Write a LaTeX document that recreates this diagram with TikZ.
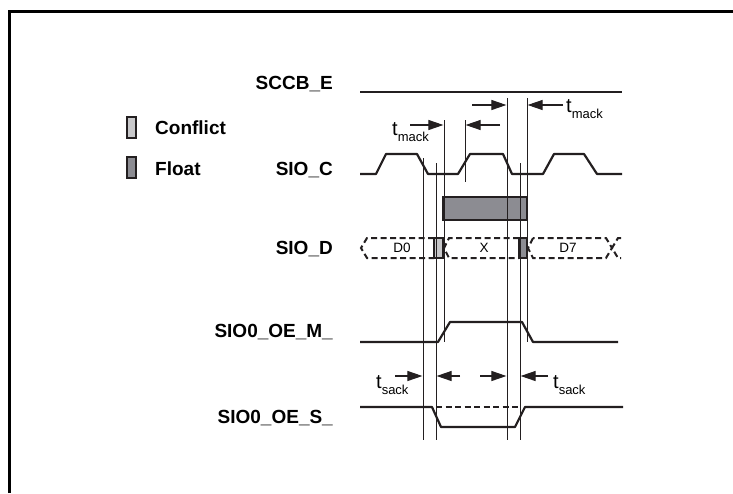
\documentclass[tikz,border=0pt]{standalone}
\usepackage{fontspec}
\setmainfont{Liberation Sans}
\usetikzlibrary{arrows.meta}
\definecolor{conflictgray}{RGB}{200,200,202}
\definecolor{floatgray}{RGB}{140,140,146}
\definecolor{inkgray}{RGB}{35,31,32}
\tikzset{
  frameline/.style={draw=black, line width=3pt},
  sig/.style={draw=inkgray, line width=2.2pt, line join=round},
  busdash/.style={draw=inkgray, line width=2pt, dash pattern=on 6pt off 3.5pt},
  guide/.style={draw=inkgray, line width=0.9pt},
  dimarr/.style={draw=inkgray, line width=1.1pt, -{Triangle[length=15pt,width=10pt]}, shorten >=0.6pt},
  chunk/.style={draw=inkgray, line width=2pt},
  swatch/.style={draw=inkgray, line width=1.6pt, minimum width=9pt, minimum height=21pt, inner sep=0pt},
  signame/.style={font=\fontsize{19}{22}\selectfont\bfseries, anchor=base east, inner sep=0pt},
  keytext/.style={font=\fontsize{19}{22}\selectfont\bfseries, anchor=base west, inner sep=0pt},
  bustext/.style={font=\fontsize{13.5}{16}\selectfont, inner sep=0pt},
  tlbl/.style={font=\fontsize{20}{22}\selectfont, anchor=base west, inner sep=0pt}
}
\newcommand{\tsub}[1]{t\raisebox{-6pt}{\fontsize{13}{14}\selectfont #1}}

\begin{document}
\begin{tikzpicture}[x=1pt,y=-1pt]
  \useasboundingbox (0,0) rectangle (733,493);
  \draw[frameline] (9.5,493) -- (9.5,11.5) -- (733,11.5);

  % signal names
  \node[signame] (nSCCB) at (333,89) {SCCB\_E};
  \node[signame] (nSIOC) at (333,175) {SIO\_C};
  \node[signame] (nSIOD) at (333,254) {SIO\_D};
  \node[signame] (nOEM) at (333,337) {SIO0\_OE\_M\_};
  \node[signame] (nOES) at (333,423) {SIO0\_OE\_S\_};

  % key
  \node[swatch, fill=conflictgray] (kConflict) at (131.5,127.5) {};
  \node[keytext] (tConflict) at (155,134) {Conflict};
  \node[swatch, fill=floatgray] (kFloat) at (131.5,167.5) {};
  \node[keytext] (tFloat) at (155,175) {Float};

  % waveforms
  \draw[sig] (360,92) -- (622,92);
  \draw[sig] (360,174) -- (376,174) -- (386,154) -- (417,154) -- (428,174) -- (458,174)
    -- (470,154) -- (503,154) -- (512,174) -- (543,174) -- (554,154) -- (584,154)
    -- (597,174) -- (622,174);
  \draw[sig] (360,342) -- (438,342) -- (450,322) -- (522,322) -- (533,342) -- (618,342);
  \draw[sig] (360,407) -- (432,407) -- (441,427) -- (515,427) -- (525,407) -- (623,407);
  \draw[busdash] (436,407) -- (518,407);

  % float bar
  \draw[chunk, fill=floatgray] (443,197) rectangle (527,220);

  % SIO_D bus
  \draw[busdash] (434,238) -- (367,238) -- (361,248) -- (367,258) -- (434,258);
  \draw[busdash] (519,238) -- (449,238) -- (444,248) -- (449,258) -- (519,258);
  \draw[busdash] (533,238) -- (528,248) -- (533,258) -- (606,258) -- (612,248) -- (606,238) -- cycle;
  \draw[busdash] (621,238) -- (618,238) -- (612,248) -- (618,258) -- (621,258);
  \draw[chunk, fill=conflictgray] (434,238) rectangle (443,258);
  \draw[chunk, fill=floatgray] (519,238) rectangle (527,258);
  \node[bustext] (dD0) at (402,248) {D0};
  \node[bustext] (dX) at (484,248) {X};
  \node[bustext] (dD7) at (568,248) {D7};

  % timing guides
  \foreach \n/\gx/\gt/\gb in {g1/423/158/440, g2/436/163/440, g3/444/120/342, g4/465/120/182,
                              g5/507/98/440, g6/520/163/440, g7/527/98/342} {
    \coordinate (\n) at (\gx,\gt);
    \draw[guide] (\n) -- (\gx,\gb);
  }

  % t_mack
  \coordinate (aML) at (410,125);
  \coordinate (aMM) at (500,125);
  \coordinate (aRL) at (472,105);
  \coordinate (aRR) at (563,105);
  \draw[dimarr] (aML) -- (aML -| g3);
  \draw[dimarr] (aMM) -- (aMM -| g4);
  \draw[dimarr] (aRL) -- (aRL -| g5);
  \draw[dimarr] (aRR) -- (aRR -| g7);
  \node[tlbl] (lMackL) at (392,135) {\tsub{mack}};
  \node[tlbl] (lMackR) at (566,112) {\tsub{mack}};

  % t_sack
  \coordinate (aSL) at (395,376);
  \coordinate (aSM) at (460,376);
  \coordinate (aSN) at (480,376);
  \coordinate (aSR) at (548,376);
  \draw[dimarr] (aSL) -- (aSL -| g1);
  \draw[dimarr] (aSM) -- (aSM -| g2);
  \draw[dimarr] (aSN) -- (aSN -| g5);
  \draw[dimarr] (aSR) -- (aSR -| g6);
  \node[tlbl] (lSackL) at (376,388) {\tsub{sack}};
  \node[tlbl] (lSackR) at (553,388) {\tsub{sack}};
\end{tikzpicture}
\end{document}
